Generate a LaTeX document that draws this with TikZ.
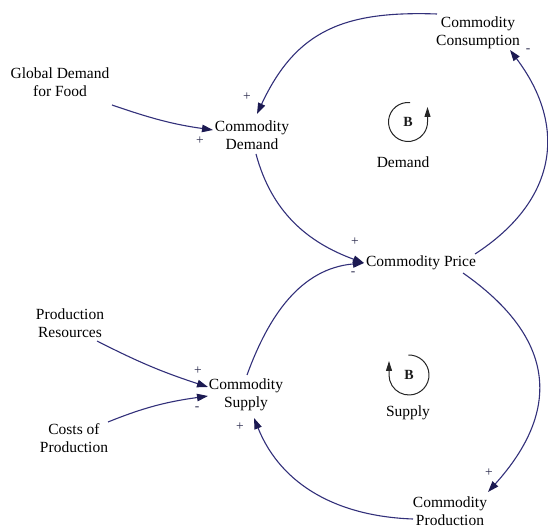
\documentclass[tikz,border=0pt]{standalone}
\usepackage{fontspec}
\setmainfont{Liberation Serif}
\usetikzlibrary{arrows.meta}
\definecolor{linkc}{RGB}{50,48,122}
\definecolor{headc}{RGB}{28,26,82}
\definecolor{signc}{RGB}{40,40,75}
\begin{document}
\begin{tikzpicture}[x=1pt,y=1pt,
  var/.style={font=\fontsize{15.5}{17.5}\selectfont, align=center, inner sep=0pt, text=black},
  link/.style={draw=linkc, line width=1.1pt, -{Triangle[length=11pt,width=7.5pt,fill=headc,color=headc]}},
  sign/.style={font=\fontsize{13.5}{13.5}\selectfont, text=signc, inner sep=0pt},
  loopc/.style={draw=black!85, line width=1pt, -{Triangle[length=10pt,width=6pt]}},
  loopb/.style={font=\fontsize{14}{14}\selectfont\bfseries, inner sep=0pt, text=black!90}]
\useasboundingbox (0,0) rectangle (548,527);

% variables
\node[var] (gdf) at (60,445) {Global Demand\\for Food};
\node[var] (cd)  at (252,392) {Commodity\\Demand};
\node[var] (cc)  at (478,494) {Commodity\\Consumption};
\node[var] (cp)  at (421,264) {Commodity Price};
\node[var] (pr)  at (70,204) {Production\\Resources};
\node[var] (cs)  at (246,132) {Commodity\\Supply};
\node[var] (cop) at (74,89) {Costs of\\Production};
\node[var] (cpr) at (450,16) {Commodity\\Production};

% loop markers
\node[loopb] (b1) at (408,405) {B};
\draw[loopc] ([shift={(84:19.5)}]b1.center) arc[start angle=84, end angle=360, radius=19.5] -- ++(0,15);
\node[var] (dl) at (403,365) {Demand};
\node[loopb] (b2) at (409,152) {B};
\draw[loopc] ([shift={(92:20)}]b2.center) arc[start angle=92, end angle=-180, radius=20] -- ++(0,14);
\node[var] (sl) at (408,114) {Supply};

% links
\draw[link] ([shift={(-41,19)}]cc.center) to[out=178,in=65,looseness=1.15] ([shift={(5,21)}]cd.center);
\draw[link] ([shift={(52,-23)}]gdf.center) to[out=-19,in=172] ([shift={(-39,5)}]cd.center);
\draw[link] ([shift={(4,-19)}]cd.center) to[out=-75,in=160] ([shift={(-57,0)}]cp.center);
\draw[link] ([shift={(54,9)}]cp.center) to[out=33,in=-53,looseness=1.2] ([shift={(32,-17)}]cc.center);
\draw[link] ([shift={(42,-10)}]cp.center) to[out=-35,in=48,looseness=1.3] ([shift={(38,19)}]cpr.center);
\draw[link] ([shift={(-37,-8)}]cpr.center) to[out=178,in=-68] ([shift={(8,-23)}]cs.center);
\draw[link] ([shift={(1,20)}]cs.center) to[out=70,in=185] ([shift={(-57,0)}]cp.center);
\draw[link] ([shift={(27,-18)}]pr.center) to[out=-27,in=162] ([shift={(-38,8)}]cs.center);
\draw[link] ([shift={(34,16)}]cop.center) to[out=22,in=188] ([shift={(-38,-1)}]cs.center);

% polarities
\node[sign] (s1) at (247,430) {+};
\node[sign] (s2) at (200,386) {+};
\node[sign] (s3) at (355,285) {+};
\node[sign] (s4) at (353,253) {-};
\node[sign] (s5) at (528,476) {-};
\node[sign] (s6) at (489,54) {+};
\node[sign] (s7) at (240,100) {+};
\node[sign] (s8) at (198,156) {+};
\node[sign] (s9) at (197,118) {-};
\end{tikzpicture}
\end{document}
